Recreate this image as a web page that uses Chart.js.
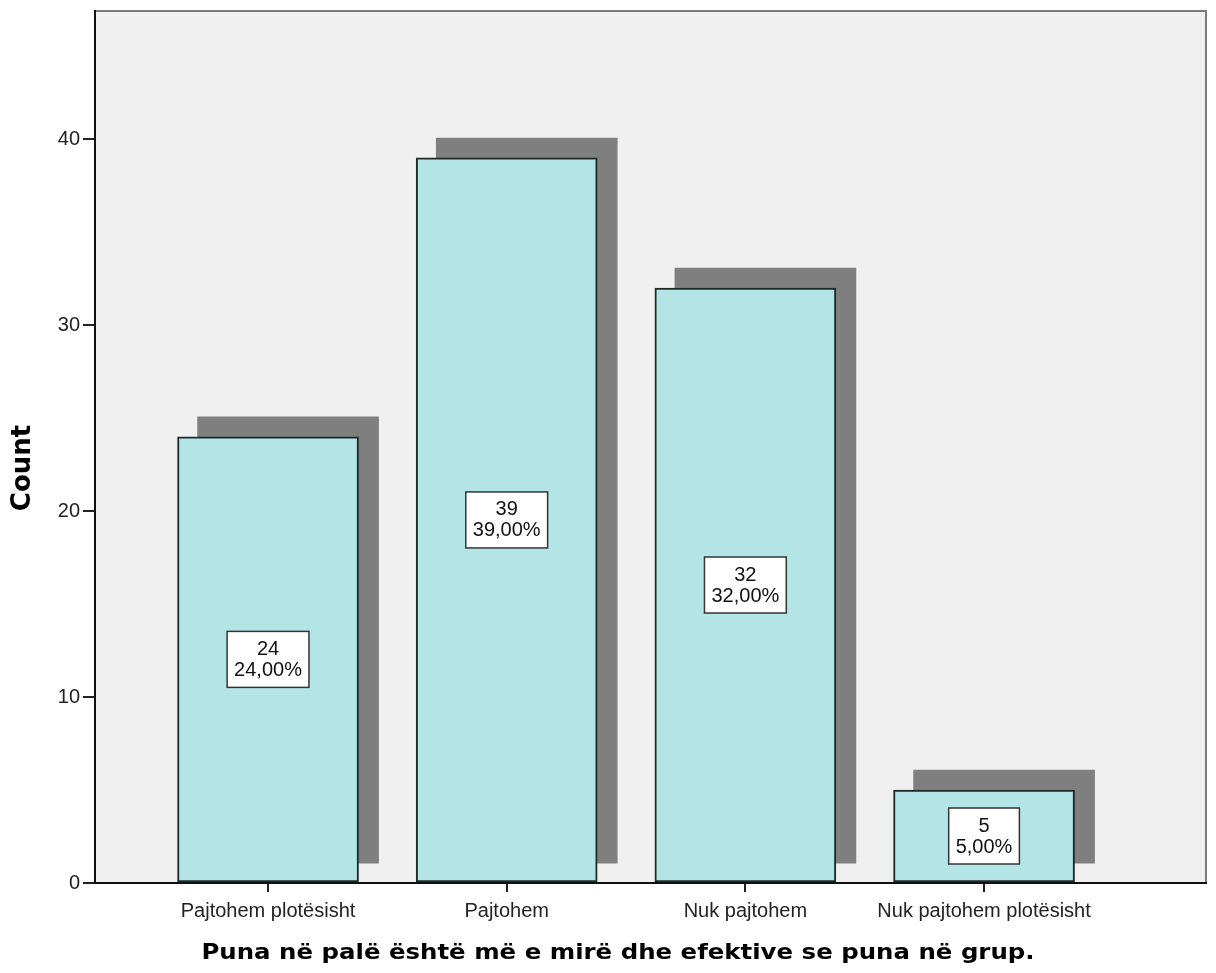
<!doctype html>
<html>
  <head>
    <script src="https://cdn.jsdelivr.net/npm/chart.js@4/dist/chart.umd.min.js"></script>
    <style>
      body { margin: 0; background: #fff; }
      #wrap { width: 1216px; height: 973px; }
    </style>
  </head>
  <body>
    <div id="wrap"><canvas id="c1" width="1216" height="973"></canvas></div>
    <script>
      // answers and counts
      let categories = ["Pajtohem plotësisht", "Pajtohem", "Nuk pajtohem", "Nuk pajtohem plotësisht"];
      let counts = [24, 39, 32, 5];
      let percents = ["24,00%", "39,00%", "32,00%", "5,00%"];
      let yTicks = [0, 10, 20, 30, 40];

      let xTitle = "Puna në palë është më e mirë dhe efektive se puna në grup.";
      let yTitle = "Count";

      // drop shadow behind each bar, in axis units
      let shadowShift = 0.084;
      let shadowLift = 1.07;

      let barData = counts.map((v, i) => ({ x: i, y: v }));
      let shadowData = counts.map((v, i) => ({ x: i + shadowShift, y: [shadowLift, v + shadowLift] }));

      let tickFont = { family: "Arial, 'Liberation Sans'", size: 20 };

      // grey plot panel with its frame
      let panelPlugin = {
        id: "panel",
        beforeDraw(chart) {
          let a = chart.chartArea, ctx = chart.ctx;
          ctx.save();
          ctx.fillStyle = "#f0f0f0";
          ctx.fillRect(a.left, a.top, a.right - a.left, a.bottom - a.top);
          ctx.strokeStyle = "#7a7a7a";
          ctx.lineWidth = 2;
          ctx.beginPath();
          ctx.moveTo(a.left, a.top);
          ctx.lineTo(a.right, a.top);
          ctx.lineTo(a.right, a.bottom);
          ctx.stroke();
          ctx.restore();
        }
      };

      // count / percent boxes in the middle of each bar
      let labelPlugin = {
        id: "boxes",
        afterDatasetsDraw(chart) {
          let ctx = chart.ctx;
          let bars = chart.getDatasetMeta(0).data;
          ctx.save();
          ctx.font = "20px Arial, 'Liberation Sans'";
          ctx.textAlign = "center";
          ctx.textBaseline = "middle";
          bars.forEach((bar, i) => {
            let lines = [String(counts[i]), percents[i]];
            let w = Math.max(...lines.map(t => ctx.measureText(t).width)) + 14;
            let h = 56;
            let cx = bar.x;
            let cy = (bar.y + bar.base) / 2;
            ctx.fillStyle = "#fff";
            ctx.fillRect(cx - w / 2, cy - h / 2, w, h);
            ctx.strokeStyle = "#333";
            ctx.lineWidth = 1.5;
            ctx.strokeRect(cx - w / 2, cy - h / 2, w, h);
            ctx.fillStyle = "#111";
            ctx.fillText(lines[0], cx, cy - 10);
            ctx.fillText(lines[1], cx, cy + 11);
          });
          ctx.restore();
        }
      };

      // axis titles
      let titlePlugin = {
        id: "titles",
        afterDraw(chart) {
          let ctx = chart.ctx;
          ctx.save();
          ctx.fillStyle = "#000";
          ctx.textAlign = "center";
          ctx.textBaseline = "middle";
          ctx.font = "bold 22px 'DejaVu Sans'";
          ctx.save();
          ctx.translate(618, 953);
          ctx.scale(1.11, 1);
          ctx.fillText(xTitle, 0, 0);
          ctx.restore();
          ctx.translate(23, 468);
          ctx.rotate(-Math.PI / 2);
          ctx.font = "bold 26px 'DejaVu Sans'";
          ctx.fillText(yTitle, 0, 0);
          ctx.restore();
        }
      };

      let chart1 = new Chart(document.getElementById("c1"), {
        type: "bar",
        data: {
          datasets: [{
            label: "Count",
            data: barData,
            backgroundColor: "#b4e5e6",
            borderColor: "#1e2a2a",
            borderWidth: 2,
            borderSkipped: false,
            barThickness: 181,
            grouped: false
          }, {
            label: "shadow",
            data: shadowData,
            backgroundColor: "#7f7f7f",
            borderWidth: 0,
            barThickness: 181,
            grouped: false
          }]
        },
        options: {
          responsive: false,
          animation: false,
          layout: { padding: { top: 11, right: 10, left: 0, bottom: 0 } },
          plugins: {
            legend: { display: false },
            tooltip: { enabled: false }
          },
          scales: {
            x: {
              type: "linear",
              min: -0.725,
              max: 3.93,
              offset: false,
              afterBuildTicks: s => { s.ticks = categories.map((c, i) => ({ value: i })); },
              afterFit: s => { s.height = 90; s.paddingLeft = 0; s.paddingRight = 0; },
              ticks: {
                font: tickFont,
                color: "#222",
                padding: 7,
                maxRotation: 0,
                autoSkip: false,
                callback: v => categories[v]
              },
              grid: { offset: false, drawOnChartArea: false, drawTicks: true, tickLength: 9, color: "#222", lineWidth: 2 },
              border: { display: true, color: "#111", width: 2 }
            },
            y: {
              min: 0,
              max: 46.9,
              afterBuildTicks: s => { s.ticks = yTicks.map(v => ({ value: v })); },
              afterFit: s => { s.width = 95; s.paddingTop = 0; s.paddingBottom = 0; },
              ticks: { font: tickFont, color: "#222", padding: 3 },
              grid: { drawOnChartArea: false, drawTicks: true, tickLength: 12, color: "#222", lineWidth: 2 },
              border: { display: true, color: "#111", width: 2 }
            }
          }
        },
        plugins: [panelPlugin, labelPlugin, titlePlugin]
      });
    </script>
  </body>
</html>
